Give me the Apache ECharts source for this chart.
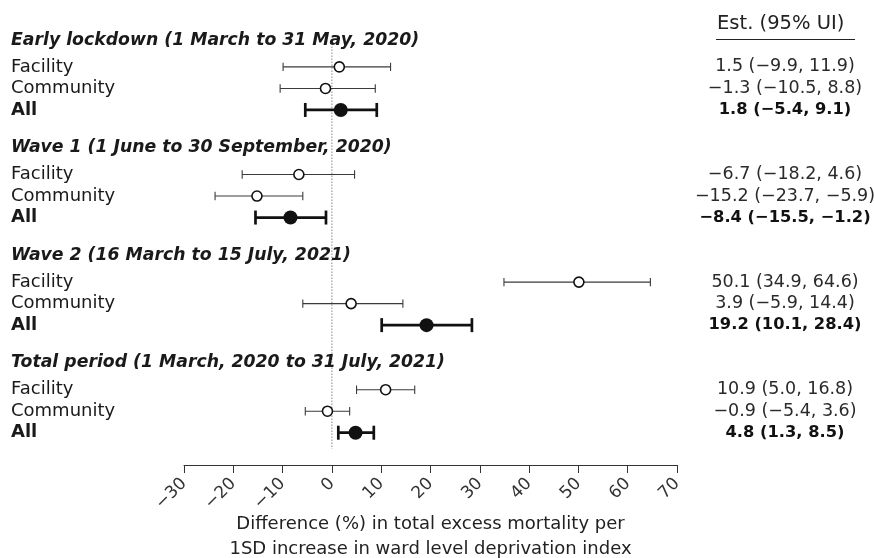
<!DOCTYPE html>
<html><head><meta charset="utf-8">
<script src="https://cdn.jsdelivr.net/npm/echarts@6/dist/echarts.min.js"></script>
<style>html,body{margin:0;padding:0;background:#fff}#c{width:874px;height:558px}</style>
</head><body><div id="c"></div>
<script>
const groups = ["Early lockdown (1 March to 31 May, 2020)", "Wave 1 (1 June to 30 September, 2020)", "Wave 2 (16 March to 15 July, 2021)", "Total period (1 March, 2020 to 31 July, 2021)"];
const subgroups = ["Facility", "Community", "All"];
const est   = [[1.5, -1.3, 1.8], [-6.7, -15.2, -8.4], [50.1, 3.9, 19.2], [10.9, -0.9, 4.8]];
const lower = [[-9.9, -10.5, -5.4], [-18.2, -23.7, -15.5], [34.9, -5.9, 10.1], [5.0, -5.4, 1.3]];
const upper = [[11.9, 8.8, 9.1], [4.6, -5.9, -1.2], [64.6, 14.4, 28.4], [16.8, 3.6, 8.5]];
const xTicks = [-30, -20, -10, 0, 10, 20, 30, 40, 50, 60, 70];
const headerText = "Est. (95% UI)";
const axisTitle = "Difference (%) in total excess mortality per\n1SD increase in ward level deprivation index";

const FONT = "'DejaVu Sans', 'Liberation Sans', Arial, sans-serif";
const GROUP_STEP = 5, ROW_OFFSET = 1.25;
function fmt(v) { return v.toFixed(1).replace('-', '\u2212'); }

const rows = [];   // [est, lower, upper, y, isAll, label, estText]
const titles = []; // [y, text]
groups.forEach((g, gi) => {
  titles.push([gi * GROUP_STEP, g]);
  subgroups.forEach((s, si) => {
    const y = gi * GROUP_STEP + ROW_OFFSET + si;
    rows.push([est[gi][si], lower[gi][si], upper[gi][si], y, si === 2 ? 1 : 0, s,
      fmt(est[gi][si]) + ' (' + fmt(lower[gi][si]) + ', ' + fmt(upper[gi][si]) + ')']);
  });
});

const chart = echarts.init(document.getElementById('c'), null, {renderer: 'canvas'});
chart.setOption({
  animation: false,
  backgroundColor: '#fff',
  grid: {left: 184, right: 197, top: 18.5, bottom: 93, containLabel: false, outerBoundsMode: 'none'},
  xAxis: {
    type: 'value', min: -30, max: 70, interval: 10, position: 'bottom',
    axisLine: {show: true, onZero: false, lineStyle: {color: '#333', width: 1}},
    axisTick: {show: true, inside: false, length: 8, lineStyle: {color: '#333'}},
    splitLine: {show: false},
    axisLabel: {rotate: 45, margin: 16, fontSize: 17, color: '#333', fontFamily: FONT,
      formatter: v => xTicks.includes(v) ? String(v).replace('-', '\u2212') : ''},
    name: axisTitle, nameLocation: 'middle', nameGap: 47, nameMoveOverlap: false,
    nameTextStyle: {fontSize: 18, color: '#222', fontFamily: FONT, lineHeight: 25}
  },
  yAxis: {type: 'value', inverse: true, min: -1, max: 19.75, show: false},
  graphic: [
    {type: 'text', left: 717, top: 13.5, style: {text: headerText, fontSize: 19.5, fill: '#222', fontFamily: FONT}},
    {type: 'line', shape: {x1: 716, y1: 39.5, x2: 855, y2: 39.5}, style: {stroke: '#222', lineWidth: 1}}
  ],
  series: [
    { // reference line at 0
      type: 'line', data: [[0, 0.3], [0, 19.0]], symbol: 'none',
      lineStyle: {color: '#888', width: 1, type: [1.5, 1.5]}, z: 1
    },
    { // error bars
      type: 'custom', z: 2,
      data: rows.map(r => [r[1], r[2], r[3], r[4]]),
      encode: {x: [0, 1], y: 2},
      renderItem: (params, api) => {
        const lo = api.coord([api.value(0), api.value(2)]);
        const hi = api.coord([api.value(1), api.value(2)]);
        const all = api.value(3) === 1;
        const w = all ? 2.7 : 1.1, h = all ? 7 : 4.2;
        const col = all ? '#111' : '#3a3a3a';
        const st = {stroke: col, lineWidth: w};
        return {type: 'group', children: [
          {type: 'line', shape: {x1: lo[0], y1: lo[1], x2: hi[0], y2: hi[1]}, style: st},
          {type: 'line', shape: {x1: lo[0], y1: lo[1] - h, x2: lo[0], y2: lo[1] + h}, style: st},
          {type: 'line', shape: {x1: hi[0], y1: hi[1] - h, x2: hi[0], y2: hi[1] + h}, style: st}
        ]};
      }
    },
    { // open points
      type: 'scatter', z: 3, symbol: 'circle', symbolSize: 10,
      data: rows.filter(r => !r[4]).map(r => [r[0], r[3]]),
      itemStyle: {color: '#fff', borderColor: '#111', borderWidth: 1.6, opacity: 1}
    },
    { // filled points
      type: 'scatter', z: 3, symbol: 'circle', symbolSize: 14,
      data: rows.filter(r => r[4]).map(r => [r[0], r[3]]),
      itemStyle: {color: '#111', borderWidth: 0, opacity: 1}
    },
    { // row labels + estimates text
      type: 'custom', z: 4, clip: false,
      data: rows.map(r => [0, r[3], r[4]]),
      renderItem: (params, api) => {
        const p = api.coord([0, api.value(1)]);
        const r = rows[params.dataIndex];
        const bold = r[4] ? 'bold' : 'normal';
        return {type: 'group', children: [
          {type: 'text', x: 11, y: p[1], style: {text: r[5], fontSize: 18, fontWeight: bold, fill: '#1a1a1a', fontFamily: FONT, textAlign: 'left', textVerticalAlign: 'middle'}},
          {type: 'text', x: 785, y: p[1], style: {text: r[6], fontSize: r[4] ? 16.3 : 17.5, fontWeight: bold, fill: r[4] ? '#111' : '#2a2a2a', fontFamily: FONT, textAlign: 'center', textVerticalAlign: 'middle'}}
        ]};
      }
    },
    { // group titles
      type: 'custom', z: 4, clip: false,
      data: titles.map(t => [0, t[0]]),
      renderItem: (params, api) => {
        const p = api.coord([0, api.value(1)]);
        return {type: 'text', x: 11, y: p[1], style: {text: titles[params.dataIndex][1], fontSize: 17.3, fontWeight: 'bold', fontStyle: 'italic', fill: '#1a1a1a', fontFamily: FONT, textAlign: 'left', textVerticalAlign: 'middle'}};
      }
    }
  ]
});
</script></body></html>
